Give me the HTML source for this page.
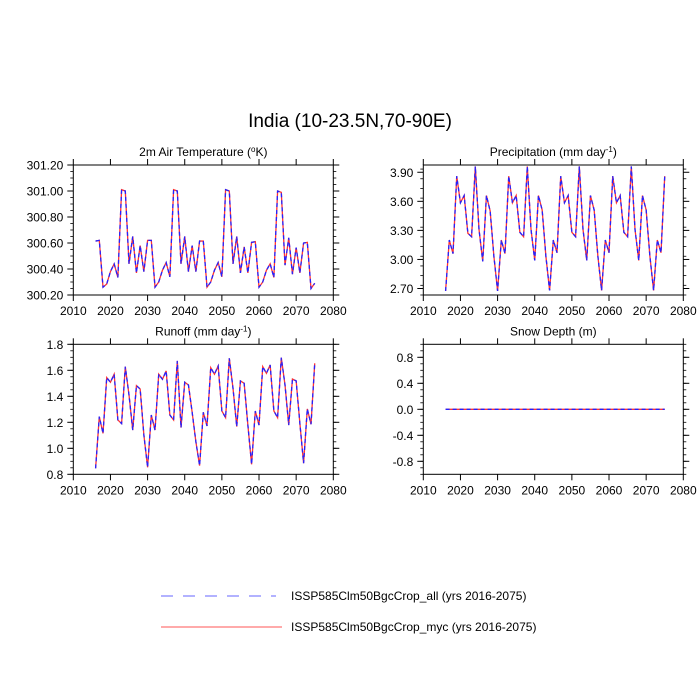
<!DOCTYPE html>
<html><head><meta charset="utf-8"><style>
body{margin:0;background:#fff;}
svg{display:block;font-family:"Liberation Sans",sans-serif;}
</style></head><body>
<svg id="chart" width="700" height="700" viewBox="0 0 700 700">
<rect width="700" height="700" fill="#fff"/>
<text x="350" y="127" text-anchor="middle" font-size="19">India (10-23.5N,70-90E)</text>
<g>
<line x1="161" y1="596" x2="276" y2="596" stroke="#6666ff" stroke-width="1" stroke-dasharray="12,10"/>
<text x="291" y="600" font-size="12">ISSP585Clm50BgcCrop_all (yrs 2016-2075)</text>
<line x1="161" y1="627" x2="282" y2="627" stroke="#ff5555" stroke-width="1"/>
<text x="291" y="631" font-size="12">ISSP585Clm50BgcCrop_myc (yrs 2016-2075)</text>
</g>
</svg>
<script>
const years=[];for(let y=2016;y<=2075;y++)years.push(y);
const xTicks=[2010,2020,2030,2040,2050,2060,2070,2080];
const tempVals=[300.615,300.62,300.26,300.285,300.38,300.44,300.335,301.01,301.0,300.44,300.65,300.37,300.58,300.38,300.62,300.62,300.26,300.30,300.39,300.45,300.34,301.01,301.0,300.44,300.65,300.38,300.58,300.38,300.615,300.615,300.26,300.30,300.39,300.45,300.34,301.01,301.0,300.44,300.65,300.37,300.57,300.37,300.605,300.61,300.26,300.30,300.39,300.44,300.335,301.0,300.99,300.43,300.64,300.36,300.565,300.37,300.60,300.605,300.25,300.29];
const precVals=[2.675,3.20,3.06,3.86,3.585,3.66,3.27,3.235,3.96,3.31,2.98,3.66,3.50,3.035,2.675,3.20,3.06,3.86,3.585,3.66,3.28,3.235,3.96,3.31,2.99,3.66,3.51,3.035,2.68,3.20,3.07,3.86,3.585,3.66,3.28,3.235,3.96,3.31,2.99,3.66,3.51,3.035,2.68,3.20,3.07,3.86,3.585,3.66,3.28,3.235,3.96,3.31,2.99,3.66,3.51,3.035,2.68,3.20,3.07,3.86];
const runVals=[0.846,1.244,1.115,1.544,1.508,1.57,1.218,1.19,1.628,1.41,1.14,1.482,1.456,1.103,0.854,1.256,1.14,1.57,1.531,1.595,1.256,1.218,1.672,1.159,1.508,1.487,1.277,1.051,0.867,1.277,1.172,1.62,1.57,1.633,1.287,1.236,1.692,1.462,1.167,1.518,1.5,1.179,0.877,1.287,1.179,1.628,1.577,1.641,1.287,1.236,1.697,1.487,1.179,1.533,1.518,1.192,0.885,1.303,1.185,1.654];
const snowVals=years.map(()=>0);
const tempTicks=[300.2,300.4,300.6,300.8,301.0,301.2];
const precTicks=[2.7,3.0,3.3,3.6,3.9];
const runTicks=[0.8,1.0,1.2,1.4,1.6,1.8];
const snowTicks=[-0.8,-0.4,0,0.4,0.8];
const NS="http://www.w3.org/2000/svg";
const svg=document.getElementById('chart');
function mk(tag,attrs,parent){const e=document.createElementNS(NS,tag);for(const k in attrs)e.setAttribute(k,attrs[k]);(parent||svg).appendChild(e);return e;}
function panel(p){
 const g=mk('g',{});
 
 
 const L=p.x0,R=p.x1,T=p.y0,B=p.y1;
 const sx=v=>L+(v-2010)/70*(R-L);
 const sy=v=>B-(v-p.ymin)/(p.ymax-p.ymin)*(B-T);
 const pts=p.vals.map((v,i)=>sx(years[i]).toFixed(2)+','+sy(v).toFixed(2)).join(' ');
 const red=mk('polyline',{points:pts,fill:'none',stroke:'#ff3333','stroke-width':1.3},g);
 
 
 const blue=mk('polyline',{points:pts,fill:'none',stroke:'#2222ff','stroke-width':1.3,'stroke-dasharray':'4,3'},g);
 
 
 const fr=mk('rect',{x:L,y:T,width:R-L,height:B-T,fill:'none',stroke:'#000','stroke-width':1},g);
 
 
 xTicks.forEach(t=>{const x=sx(t);
  mk('line',{x1:x,y1:B,x2:x,y2:B+6,stroke:'#000'},g);
  mk('line',{x1:x,y1:T,x2:x,y2:T-6,stroke:'#000'},g);
  const tx=mk('text',{x:x,y:B+20,'text-anchor':'middle','font-size':12},g);tx.textContent=t;
  
  
 });
 for(let v=p.ymin;v<=p.ymax+1e-9;v+=p.minor){const y=sy(v);
  mk('line',{x1:L,y1:y,x2:L-3,y2:y,stroke:'#000','stroke-width':0.8},g);
  mk('line',{x1:R,y1:y,x2:R+3,y2:y,stroke:'#000','stroke-width':0.8},g);}
 p.ticks.forEach(t=>{const y=sy(t);
  mk('line',{x1:L,y1:y,x2:L-6,y2:y,stroke:'#000'},g);
  mk('line',{x1:R,y1:y,x2:R+6,y2:y,stroke:'#000'},g);
  const tx=mk('text',{x:L-10,y:y+4.5,'text-anchor':'end','font-size':12},g);tx.textContent=t.toFixed(p.dec);
  
  
 });
 const ti=mk('text',{x:(L+R)/2,y:T-9,'text-anchor':'middle','font-size':12},g);ti.innerHTML=p.title;
 
 
}
panel({name:'panel-air-temperature',x0:73.3,x1:333.3,y0:165,y1:295,ymin:300.2,ymax:301.2,minor:0.05,ticks:tempTicks,dec:2,vals:tempVals,title:'2m Air Temperature (<tspan dy="-4" font-size="8">o</tspan><tspan dy="4">K)</tspan>'});
panel({name:'panel-precipitation',x0:423.3,x1:683.3,y0:165,y1:295,ymin:2.633,ymax:3.975,minor:0.1,ticks:precTicks,dec:2,vals:precVals,title:'Precipitation (mm day<tspan dy="-4" font-size="8">-1</tspan><tspan dy="4">)</tspan>'});
panel({name:'panel-runoff',x0:73.3,x1:333.3,y0:344.3,y1:474.3,ymin:0.8,ymax:1.8,minor:0.05,ticks:runTicks,dec:1,vals:runVals,title:'Runoff (mm day<tspan dy="-4" font-size="8">-1</tspan><tspan dy="4">)</tspan>'});
panel({name:'panel-snow-depth',x0:423.3,x1:683.3,y0:344.3,y1:474.3,ymin:-1,ymax:1,minor:0.1,ticks:snowTicks,dec:1,vals:snowVals,title:'Snow Depth (m)'});
</script>
</body></html>
